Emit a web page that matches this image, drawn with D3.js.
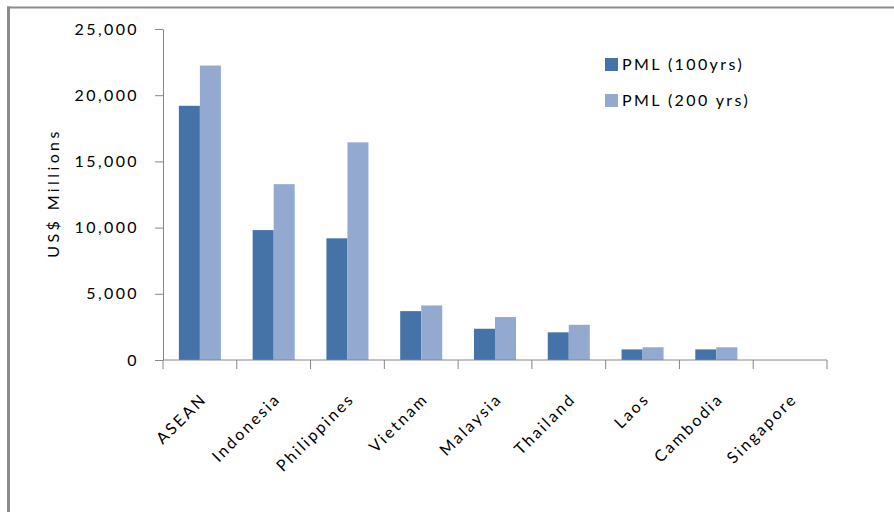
<!DOCTYPE html>
<html>
<head>
<meta charset="utf-8">
<script src="https://cdn.jsdelivr.net/npm/d3@7"></script>
<style>
  html, body { margin: 0; padding: 0; background: #fff; }
  svg { display: block; }
  text { font-family: Lato, "Open Sans", sans-serif; fill: #000; }
</style>
</head>
<body>
<svg id="chart" width="894" height="512"></svg>
<script>
// Probable maximum loss by country, US$ millions
const categories = ["ASEAN", "Indonesia", "Philippines", "Vietnam", "Malaysia", "Thailand", "Laos", "Cambodia", "Singapore"];
const seriesNames = ["PML (100yrs)", "PML (200 yrs)"];
const pml100 = [19200, 9810, 9190, 3690, 2360, 2090, 800, 800, 0];
const pml200 = [22240, 13280, 16440, 4120, 3240, 2660, 960, 960, 0];
const yTicks = [0, 5000, 10000, 15000, 20000, 25000];
const colors = ["#4572A7", "#93A9CF"];

const svg = d3.select("#chart");
const margin = { left: 163, right: 894 - 827, top: 29, bottom: 512 - 360 };
const width = 894 - margin.left - margin.right;
const height = 512 - margin.top - margin.bottom;
const spacing = 2.4;

// outer frame (left and top edges)
svg.append("line").attr("x1", 7).attr("x2", 894).attr("y1", 7.5).attr("y2", 7.5)
  .attr("stroke", "#8c8c8c").attr("stroke-width", 2);
svg.append("line").attr("x1", 8.5).attr("x2", 8.5).attr("y1", 6.5).attr("y2", 512)
  .attr("stroke", "#8c8c8c").attr("stroke-width", 3);

const g = svg.append("g").attr("transform", `translate(${margin.left},${margin.top})`);

const x0 = d3.scaleBand().domain(categories).range([0, width]).paddingInner(0).paddingOuter(0);
const x1 = d3.scaleBand().domain(seriesNames).range([0, x0.bandwidth()]).paddingInner(0).paddingOuter(0.755);
const y = d3.scaleLinear().domain([0, 25000]).range([height, 0]);

const rows = categories.map((c, i) => ({ cat: c, vals: [pml100[i], pml200[i]] }));

// bars
g.selectAll("g.grp").data(rows).join("g").attr("class", "grp")
  .attr("transform", d => `translate(${x0(d.cat)},0)`)
  .selectAll("rect").data(d => d.vals.map((v, k) => ({ v, k })))
  .join("rect")
  .attr("x", d => x1(seriesNames[d.k]))
  .attr("width", x1.bandwidth())
  .attr("y", d => y(d.v))
  .attr("height", d => height - y(d.v))
  .attr("fill", d => colors[d.k]);

// y axis
const yAxis = g.append("g").call(
  d3.axisLeft(y).tickValues(yTicks).tickFormat(d3.format(",")).tickSizeInner(8).tickSizeOuter(0).tickPadding(16)
);
yAxis.select(".domain").attr("stroke", "#868686");
yAxis.selectAll(".tick line").attr("stroke", "#868686");
yAxis.selectAll(".tick text").attr("font-size", 16).attr("fill", "#000")
  .attr("letter-spacing", spacing);

// x axis with ticks at band boundaries
const xAxis = g.append("g").attr("transform", `translate(0,${height})`);
xAxis.append("line").attr("x1", 0).attr("x2", width).attr("y1", 0).attr("y2", 0)
  .attr("stroke", "#868686");
const bounds = categories.map(c => x0(c)).concat([width]);
xAxis.selectAll("line.tk").data(bounds).join("line").attr("class", "tk")
  .attr("x1", d => d).attr("x2", d => d).attr("y1", 0).attr("y2", 9)
  .attr("stroke", "#868686");
xAxis.selectAll("text").data(categories).join("text")
  .attr("transform", d => `translate(${x0(d) + x0.bandwidth() / 2 + 8},${40}) rotate(-45)`)
  .attr("text-anchor", "end")
  .attr("font-size", 16)
  .attr("letter-spacing", spacing)
  .text(d => d);

// y axis title
svg.append("text")
  .attr("transform", "translate(59,193) rotate(-90)")
  .attr("text-anchor", "middle")
  .attr("font-size", 16)
  .attr("letter-spacing", 3.4)
  .text("US$ Millions");

// legend
const legend = svg.append("g").attr("transform", "translate(605,58)");
seriesNames.forEach((name, i) => {
  const row = legend.append("g").attr("transform", `translate(0,${i * 36})`);
  row.append("rect").attr("width", 13).attr("height", 13).attr("fill", colors[i]);
  row.append("text").attr("x", 17).attr("y", 12).attr("font-size", 16)
    .attr("letter-spacing", spacing).text(name);
});
</script>
</body>
</html>
